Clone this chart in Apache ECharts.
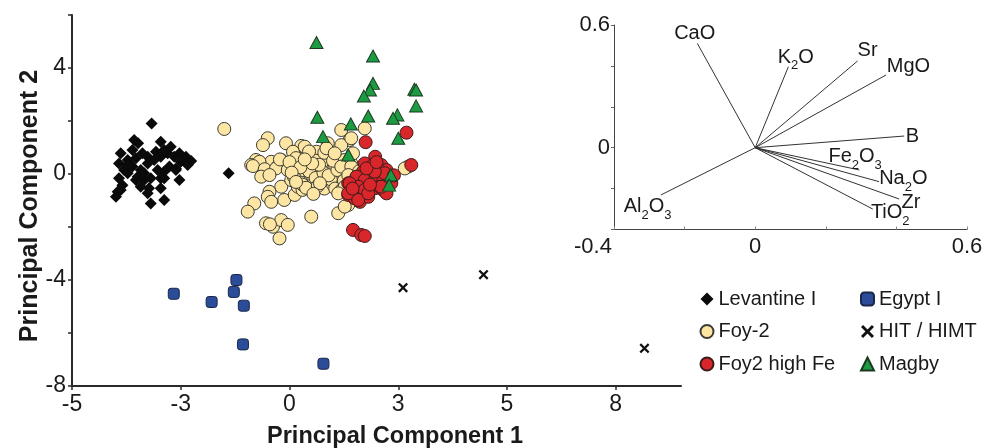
<!DOCTYPE html>
<html><head><meta charset="utf-8">
<script src="https://cdn.jsdelivr.net/npm/echarts@6/dist/echarts.min.js"></script>
<style>html,body{margin:0;padding:0;background:#fff}#c{width:995px;height:448px}</style>
</head><body><div id="c"></div>
<script>
// ---- data ----
const levantine = [[-3.17,1.91],[-3.57,1.28],[-3.48,1.16],[-2.96,1.22],[-2.73,1.03],[-2.53,0.78],[-2.26,0.49],[-2.38,0.65],[-3.88,0.78],[-3.92,0.40],[-3.72,0.53],[-3.61,0.28],[-3.42,0.15],[-3.26,0.40],[-3.11,0.53],[-2.96,0.65],[-2.80,0.78],[-2.65,0.65],[-2.50,0.46],[-2.61,0.21],[-2.76,0.28],[-2.88,0.09],[-2.96,-0.16],[-3.19,-0.16],[-3.34,-0.23],[-3.49,-0.10],[-3.72,0.03],[-3.80,0.15],[-3.92,-0.16],[-3.84,-0.42],[-3.95,-0.67],[-3.88,-0.60],[-3.99,-0.86],[-3.53,-0.23],[-3.42,-0.48],[-3.23,-0.54],[-3.26,-0.73],[-3.19,-1.11],[-2.96,-0.54],[-2.88,-0.98],[-2.88,-0.16],[-2.53,-0.23],[-2.61,0.15],[-2.34,0.34],[-3.03,0.15],[-3.61,0.91],[-3.38,0.78],[-3.26,0.65],[-3.53,0.59],[-3.34,0.03],[-3.72,0.34],[-3.07,0.84],[-2.88,0.91],[-1.40,0.03]];
const egypt = [[-2.66,-4.52],[-1.79,-4.83],[-1.22,-4.00],[-1.28,-4.45],[-1.05,-4.97],[-1.07,-6.43],[0.78,-7.16]];
const foy2 = [[-1.50,1.70],[-0.50,1.35],[-0.61,1.09],[-0.08,1.16],[0.27,1.06],[0.08,0.84],
[-0.77,0.53],[-0.88,0.34],[-0.58,0.28],[-0.42,0.46],[-0.27,0.28],[-0.19,0.53],[-0.69,0.46],[-0.84,0.30],[-0.57,0.18],[-0.31,0.21],
[-0.65,-0.10],[-0.46,-0.04],[-0.22,0.55],[-0.19,-0.48],[-0.46,-0.67],[-0.50,-0.86],[-0.42,-1.05],[-0.12,-0.98],[0.12,-0.79],
[-0.81,-1.11],[-0.96,-1.42],[-0.54,-1.86],[-0.38,-1.99],[-0.19,-1.74],[-0.04,-1.92],[-0.23,-2.43],[-0.45,-1.90],[0.50,-1.61],[1.12,-1.48],
[0.04,-0.23],[0.19,-0.48],[0.19,0.03],[0.27,-0.23],[0.42,-0.10],[0.35,0.21],[0.58,0.28],[0.50,0.59],[0.88,0.65],[0.88,0.28],[0.73,-0.10],[0.58,-0.35],[0.42,-0.35],[0.88,-0.35],[1.12,-0.10],[0.65,0.03],[-0.04,0.15],[0.10,0.35],[0.25,0.45],[0.40,0.70],[0.62,0.84],[0.35,1.03],[0.88,1.16],[1.04,0.65],[0.58,0.21],[0.88,0.40],[1.12,0.03],[0.73,-0.23],[0.46,-0.23],[1.35,0.15],[1.42,0.40],[0.30,-0.60],[0.55,-0.55],[0.80,-0.55],[1.00,-0.40],[0.95,0.10],[0.75,0.45],[0.15,0.60],[0.00,0.45],[0.20,-0.05],[0.50,0.00],[0.70,0.15],[1.05,0.30],[1.20,0.50],[0.30,0.15],[0.85,-0.15],[0.60,0.50],[0.40,0.40],
[0.10,-0.10],[0.30,-0.40],[0.45,0.10],[0.60,-0.15],[0.78,0.05],[0.95,-0.20],[1.05,-0.55],[0.68,0.35],[0.52,0.40],[0.25,0.25],[0.05,0.05],[0.38,-0.52],[0.65,-0.45],[0.90,-0.05],[1.10,0.15],[1.25,-0.25],[1.30,0.35],[0.80,0.80],[0.45,0.85],[0.15,-0.30],[1.00,0.50],[0.70,-0.35],[0.35,0.55],[1.20,-0.60],[0.55,-0.75],
[0.85,0.97],[1.19,1.66],[1.38,1.28],[1.73,1.72],[1.19,1.09],[1.27,0.53],[1.19,0.28],[1.42,0.28],[1.35,-0.04],[1.50,-0.23],[1.27,-0.48],[1.12,-0.73],[1.35,-1.17],[1.58,-0.48],[1.04,0.78],[1.46,0.78],[1.42,1.35],[2.73,0.28],[1.27,-1.23],[2.65,0.21],[1.60,0.10],[1.55,-0.85],[1.45,-0.65]];
const hit = [[2.61,-4.29],[4.46,-3.80],[8.16,-6.58]];
const foy2HighFe = [[2.69,1.56],[1.75,1.20],[1.97,0.65],[1.73,0.40],[1.92,0.34],[2.11,0.34],[2.23,0.15],[1.69,0.09],[1.88,0.03],[2.08,0.09],[2.27,-0.10],[1.54,-0.10],[1.73,-0.23],[1.96,-0.23],[2.15,-0.29],[2.34,-0.35],[1.35,-0.35],[1.58,-0.48],[1.73,-0.60],[1.96,-0.54],[2.15,-0.60],[1.35,-0.79],[1.50,-0.92],[1.62,-1.05],[1.81,-0.86],[2.08,-0.48],[2.23,-0.73],[2.80,0.34],[1.46,-2.11],[1.65,-2.30],[1.73,-2.34],[1.38,-0.35],[1.35,-0.73],[1.58,-0.98],[1.81,-0.73],[2.11,-0.48],[2.19,0.03],[1.96,0.09],[1.77,0.21],[2.00,0.45],[1.85,-0.40],[2.40,-0.05],[1.45,-0.55]];
const magby = [[0.62,4.96],[1.92,4.45],[1.92,3.42],[1.85,3.17],[1.71,2.94],[2.87,3.20],[2.91,3.17],[2.91,2.57],[2.48,2.23],[2.38,2.10],[1.81,2.19],[0.64,2.14],[1.41,1.89],[2.50,1.35],[0.77,1.41],[1.35,0.72],[2.33,-0.04],[2.29,-0.42]];

const seriesNames = ['Levantine I','Egypt I','Foy-2','HIT / HIMT','Foy2 high Fe','Magby'];
const xTickValues = [-5,-2.5,0,2.5,5,7.5];
const yTickLabels = [-8,-4,0,4];

// loading plot (inset)
const varNames = ['CaO','K2O','Sr','MgO','B','Fe2O3','Na2O','Zr','TiO2','Al2O3'];
const loadX = [-0.164,0.094,0.290,0.371,0.422,0.295,0.351,0.408,0.333,-0.267];
const loadY = [0.510,0.396,0.424,0.356,0.057,-0.109,-0.166,-0.251,-0.300,-0.231];
const insetXLabels = [-0.4,0,0.6];
const insetYLabels = [0,0.6];

// ---- styling (positions / offsets, not data) ----
const labelOffsets = [[-2.6,-9.6],[7.4,-6.9],[10,-10.7],[22.3,-8.3],[8.3,0.7],[-4.2,-10.8],[24.2,-0.5],[11.7,3.5],[17.5,6.2],[-13.4,14.5]];
const FONT = "'Liberation Sans', Arial, Helvetica, sans-serif";
const TXT = '#1a1a1a';
const xPath = 'path://M0,1.6L1.6,0L5,3.4L8.4,0L10,1.6L6.6,5L10,8.4L8.4,10L5,6.6L1.6,10L0,8.4L3.4,5Z';

function near(a,b){return Math.abs(a-b)<1e-6;}
function roundAway(v){return Math.sign(v)*Math.round(Math.abs(v));}
function richName(n){return n.replace(/([A-Za-z]+)/g,'{n|$1}').replace(/(\d)/g,'{s|$1}');}

const chart = echarts.init(document.getElementById('c'));
const option = {
  animation:false,
  backgroundColor:'#fff',
  textStyle:{fontFamily:FONT},
  grid:[
    {left:72, top:15, width:609, height:371, outerBoundsMode:'none', containLabel:false},
    {left:614, top:25, width:353, height:204.5, outerBoundsMode:'none', containLabel:false}
  ],
  xAxis:[
    {gridIndex:0, type:'value', min:-5, max:9, interval:2.5,
     axisLine:{show:true,onZero:false,lineStyle:{color:'#2a2a2a',width:2}},
     axisTick:{show:true,length:4,inside:false,customValues:xTickValues,lineStyle:{color:'#2a2a2a',width:1.5}},
     axisLabel:{show:true,customValues:xTickValues,margin:7,fontSize:23,color:TXT,fontFamily:FONT,
       formatter:v=>String(roundAway(v))},
     splitLine:{show:false}},
    {gridIndex:1, type:'value', min:-0.4, max:0.6, interval:0.2,
     axisLine:{show:true,onZero:false,lineStyle:{color:'#444',width:1}},
     axisTick:{show:true,length:3,inside:true,lineStyle:{color:'#888',width:1}},
     axisLabel:{show:true,customValues:insetXLabels,margin:6,fontSize:22,color:TXT,fontFamily:FONT,
       formatter:v=>near(v,-0.4)?'{l|-0.4}':(near(v,0)?'0':String(Math.round(v*10)/10)),
       rich:{l:{fontSize:22,color:TXT,fontFamily:FONT,padding:[0,42,0,0]}}},
     splitLine:{show:false}}
  ],
  yAxis:[
    {gridIndex:0, type:'value', min:-8, max:6, interval:2,
     axisLine:{show:true,onZero:false,lineStyle:{color:'#2a2a2a',width:2}},
     axisTick:{show:true,length:4,lineStyle:{color:'#2a2a2a',width:1.5}},
     axisLabel:{show:true,margin:6,fontSize:23,color:TXT,fontFamily:FONT,
       formatter:v=>yTickLabels.indexOf(v)>=0?String(v):''},
     splitLine:{show:false}},
    {gridIndex:1, type:'value', min:-0.4, max:0.6, interval:0.2,
     axisLine:{show:true,onZero:false,lineStyle:{color:'#444',width:1}},
     axisTick:{show:true,length:3,lineStyle:{color:'#666',width:1}},
     axisLabel:{show:true,customValues:insetYLabels,margin:4,fontSize:22,color:TXT,fontFamily:FONT,
       formatter:v=>near(v,0)?'0':String(Math.round(v*10)/10)},
     splitLine:{show:false}}
  ],
  legend:[
    {left:694.5, top:284, orient:'vertical', itemWidth:13, itemHeight:13, itemGap:12.5,
     data:['Levantine I','Foy-2','Foy2 high Fe'],
     textStyle:{fontSize:20,color:TXT,fontFamily:FONT}},
    {left:855, top:284, orient:'vertical', itemWidth:13, itemHeight:13, itemGap:12.5,
     data:['Egypt I','HIT / HIMT','Magby'],
     textStyle:{fontSize:20,color:TXT,fontFamily:FONT}}
  ],
  graphic:[
    {type:'text', x:395, y:437, style:{text:'Principal Component 1', font:'bold 23.5px '+FONT, fill:'#1a1a1a', align:'center', verticalAlign:'middle'}},
    {type:'text', x:30, y:206, rotation:Math.PI/2, style:{text:'Principal Component 2', font:'bold 25px '+FONT, fill:'#1a1a1a', align:'center', verticalAlign:'middle'}}
  ],
  series:[
    {name:seriesNames[0], type:'scatter', xAxisIndex:0, yAxisIndex:0, data:levantine, symbol:'diamond', symbolSize:12,
     itemStyle:{color:'#0a0a0a', borderWidth:0, opacity:1}},
    {name:seriesNames[1], type:'scatter', xAxisIndex:0, yAxisIndex:0, data:egypt, symbol:'roundRect', symbolSize:11,
     itemStyle:{color:'#2b4c99', borderColor:'#1b2748', borderWidth:1, opacity:1}},
    {name:seriesNames[2], type:'scatter', xAxisIndex:0, yAxisIndex:0, data:foy2, symbol:'circle', symbolSize:13,
     itemStyle:{color:'#fde6a4', borderColor:'#3b3b33', borderWidth:1, opacity:1}},
    {name:seriesNames[3], type:'scatter', xAxisIndex:0, yAxisIndex:0, data:hit, symbol:xPath, symbolSize:10,
     itemStyle:{color:'#111', borderWidth:0, opacity:1}},
    {name:seriesNames[4], type:'scatter', xAxisIndex:0, yAxisIndex:0, data:foy2HighFe, symbol:'circle', symbolSize:13,
     itemStyle:{color:'#d9262b', borderColor:'#3d1c1c', borderWidth:1, opacity:1}},
    {name:seriesNames[5], type:'scatter', xAxisIndex:0, yAxisIndex:0, data:magby, symbol:'triangle', symbolSize:[13,12],
     itemStyle:{color:'#1d9b43', borderColor:'#1d3a20', borderWidth:1, opacity:1}},
    {type:'custom', xAxisIndex:1, yAxisIndex:1, silent:true,
     data:loadX.map((x,i)=>[x,loadY[i]]),
     renderItem:function(params, api){
       const i = params.dataIndex;
       const o = api.coord([0,0]);
       const e = api.coord([api.value(0), api.value(1)]);
       const off = labelOffsets[i];
       return {type:'group', children:[
         {type:'line', shape:{x1:o[0],y1:o[1],x2:e[0],y2:e[1]}, style:{stroke:'#333',lineWidth:1}},
         {type:'text', x:e[0]+off[0], y:e[1]+off[1], style:{
            text:richName(varNames[i]), align:'center', verticalAlign:'middle', fill:TXT,
            font:'20px '+FONT,
            rich:{n:{fontSize:20,fontFamily:FONT,fill:TXT,verticalAlign:'top'},
                  s:{fontSize:13,fontFamily:FONT,fill:TXT,verticalAlign:'top',padding:[12,0,0,0]}}}}
       ]};
     }}
  ]
};
chart.setOption(option);
</script>
</body></html>
